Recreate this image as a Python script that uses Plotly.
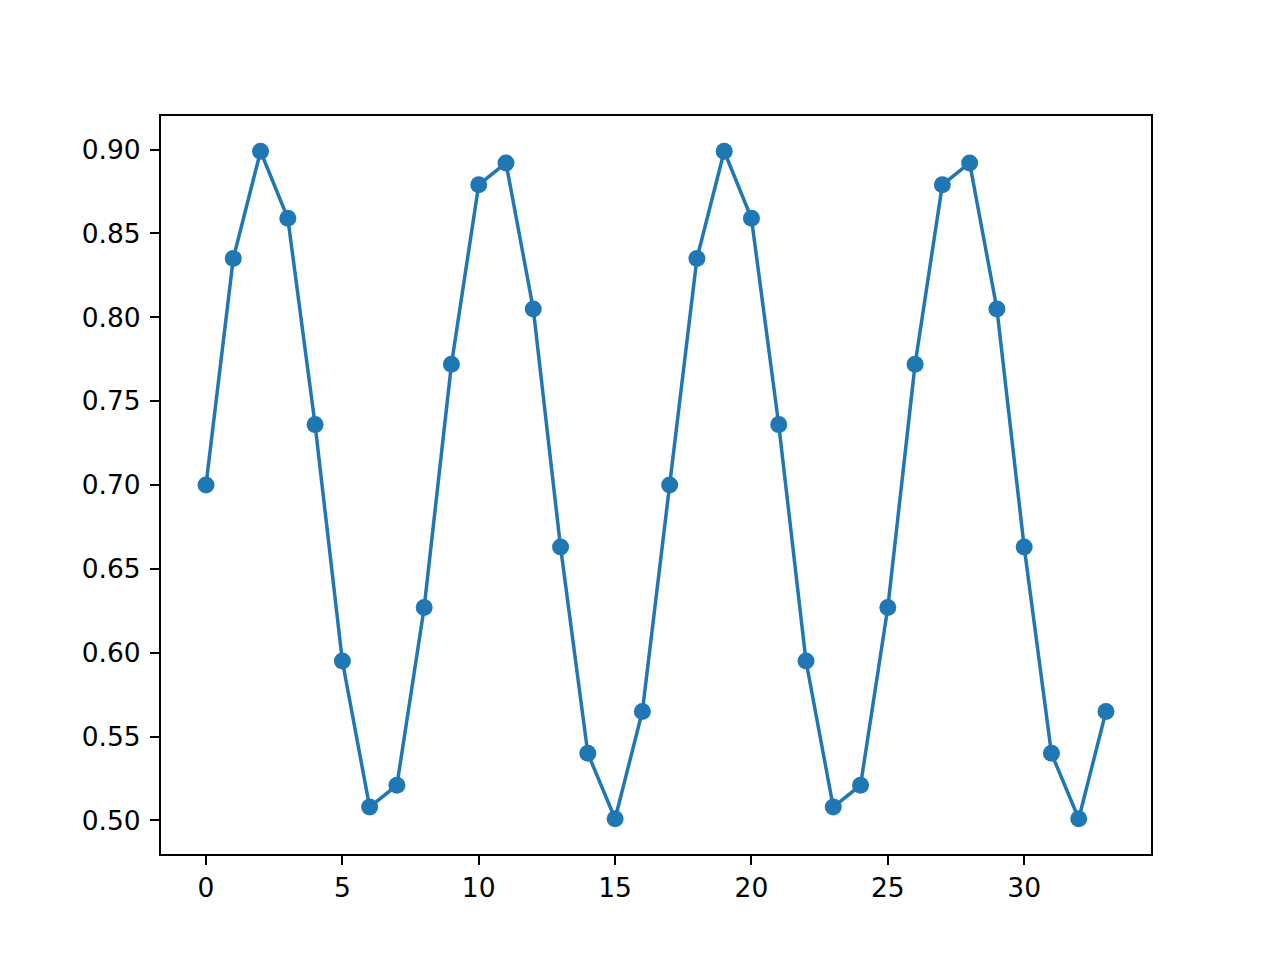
import plotly.graph_objects as go

x_vals = list(range(34))
y_vals = [0.700, 0.835, 0.899, 0.859, 0.736, 0.595, 0.508, 0.521, 0.627, 0.772,
          0.879, 0.892, 0.805, 0.663, 0.540, 0.501, 0.565, 0.700, 0.835, 0.899,
          0.859, 0.736, 0.595, 0.508, 0.521, 0.627, 0.772, 0.879, 0.892, 0.805,
          0.663, 0.540, 0.501, 0.565]
x_ticks = [0, 5, 10, 15, 20, 25, 30]
y_ticks = [0.50, 0.55, 0.60, 0.65, 0.70, 0.75, 0.80, 0.85, 0.90]

fig = go.Figure(go.Scatter(
    x=x_vals, y=y_vals, mode="lines+markers",
    line=dict(color="#1f77b4", width=3.5),
    marker=dict(color="#1f77b4", size=17),
))

axis_common = dict(
    showgrid=False, zeroline=False, showline=True, linecolor="black", linewidth=2,
    mirror=True, ticks="outside", ticklen=9, tickwidth=2, tickcolor="black",
    tickfont=dict(family="DejaVu Sans", size=26.5, color="black"),
)
fig.update_xaxes(range=[-1.65, 34.65], tickvals=x_ticks,
                 ticktext=[str(v) for v in x_ticks], **axis_common)
fig.update_yaxes(range=[0.48, 0.92], tickvals=y_ticks, ticklabelstandoff=4,
                 ticktext=[f"{v:.2f}" for v in y_ticks], **axis_common)

fig.update_layout(
    width=1280, height=960,
    margin=dict(l=153, r=137, t=108, b=114),
    plot_bgcolor="white", paper_bgcolor="white",
    showlegend=False,
)
fig.write_html("out.html")
